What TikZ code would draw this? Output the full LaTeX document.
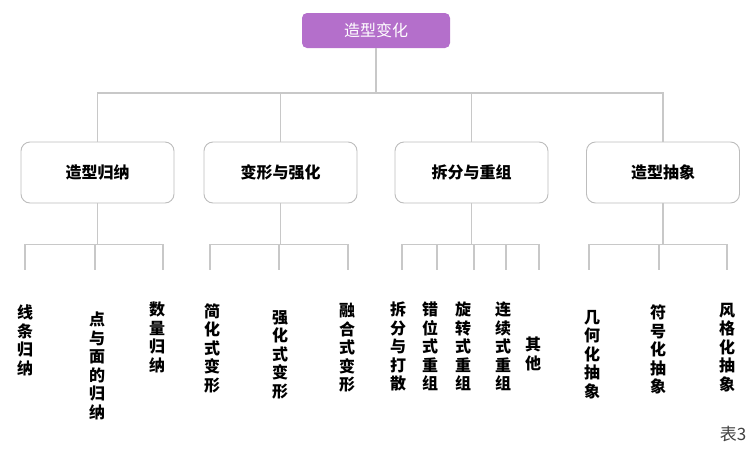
\documentclass[tikz,border=0pt]{standalone}
\usepackage{fontspec}
\newfontfamily\cjk{Noto Sans CJK SC}
\usepackage{tikz}
\usetikzlibrary{positioning, calc}
\definecolor{boxpurple}{HTML}{B46FCB}
\definecolor{linegray}{HTML}{C8C8C8}
\definecolor{boxgray}{HTML}{BDBDBD}

\tikzset{
    topbox/.style={fill=boxpurple, draw=none, rounded corners=5pt,
        minimum width=148pt, minimum height=35pt, text=white,
        font=\cjk\fontsize{16}{16}\selectfont},
    groupbox/.style={draw=boxgray, line width=0.9pt, fill=white, rounded corners=9pt,
        minimum width=153pt, minimum height=61pt,
        font=\cjk\bfseries\fontsize{16}{16}\selectfont},
    leaf/.style={anchor=north, inner sep=0pt, align=center,
        font=\cjk\bfseries\fontsize{16}{18.5}\selectfont},
    conn/.style={draw=linegray, line width=1.2pt},
}

\begin{document}
\begin{tikzpicture}[x=1pt, y=-1pt]
            \useasboundingbox (0,0) rectangle (750,448);
            \coordinate (bus1) at (0,93);
            \coordinate (bus2) at (0,244.5);

            \node[topbox] (top) at (376,30.5) {造型变化};

            \node[groupbox] (g1) at (97.5,172.5) {造型归纳};
            \node[groupbox] (g2) at (280.5,172.5) {变形与强化};
            \node[groupbox] (g3) at (471.5,172.5) {拆分与重组};
            \node[groupbox] (g4) at (663,172.5) {造型抽象};

            \foreach \g in {g1,g2,g3,g4} {
                \draw[conn] (top.south) |- (\g.north |- bus1) -- (\g.north);
            }

            %leaves
            \foreach \g/\n/\lx/\tx/\ty/\txt in {
                g1/11/25/25/305/{线\\条\\归\\纳},
                g1/12/95/97/312/{点\\与\\面\\的\\归\\纳},
                g1/13/163/157/302/{数\\量\\归\\纳},
                g2/21/210/212/303/{简\\化\\式\\变\\形},
                g2/22/279/280/310/{强\\化\\式\\变\\形},
                g2/23/348/347/303/{融\\合\\式\\变\\形},
                g3/31/402/398/302/{拆\\分\\与\\打\\散},
                g3/32/437/430/302/{错\\位\\式\\重\\组},
                g3/33/474/463/302/{旋\\转\\式\\重\\组},
                g3/34/506/503/302/{连\\续\\式\\重\\组},
                g3/35/539/533/337/{其\\他},
                g4/41/589/592/310/{几\\何\\化\\抽\\象},
                g4/42/659/658/305/{符\\号\\化\\抽\\象},
                g4/43/727/727/303/{风\\格\\化\\抽\\象}} {
                \coordinate (e\n) at (\lx,270);
                \node[leaf] (l\n) at (\tx,\ty) {\txt};
                \draw[conn] (\g.south) |- (e\n |- bus2) -- (e\n);
            }

            \node[text=black!75, font=\cjk\fontsize{17}{17}\selectfont] (tab) at (733,434) {表3};
\end{tikzpicture}
\end{document}
